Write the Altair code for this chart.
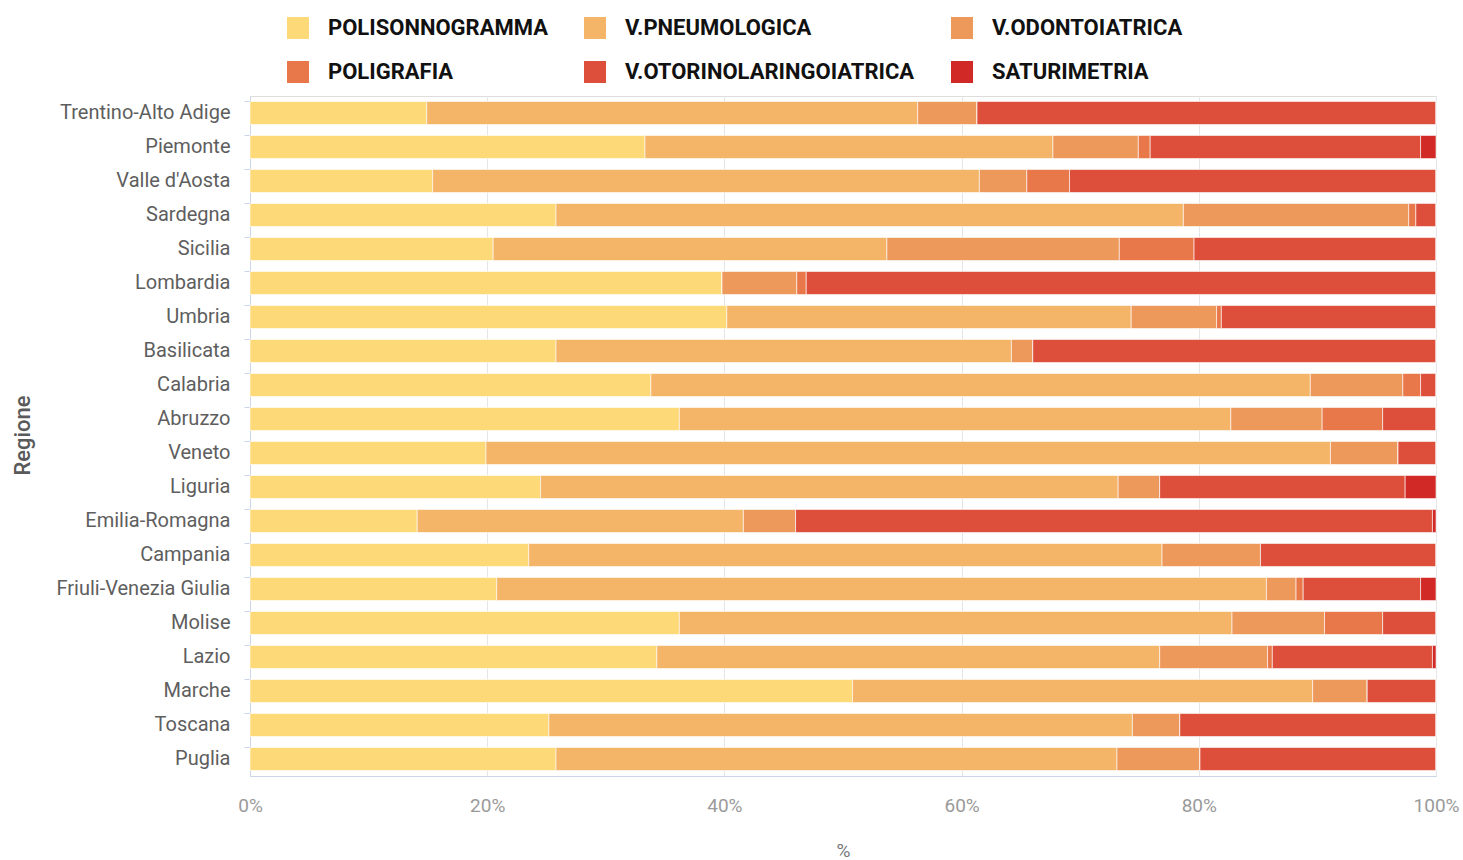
import altair as alt
import pandas as pd

# Regions, top to bottom
regioni = [
    "Trentino-Alto Adige", "Piemonte", "Valle d'Aosta", "Sardegna", "Sicilia",
    "Lombardia", "Umbria", "Basilicata", "Calabria", "Abruzzo", "Veneto",
    "Liguria", "Emilia-Romagna", "Campania", "Friuli-Venezia Giulia", "Molise",
    "Lazio", "Marche", "Toscana", "Puglia",
]

# Share (%) of each exam type per region, same order as `regioni`
polisonnogramma = [14.9, 33.3, 15.4, 25.8, 20.5, 39.8, 40.2, 25.8, 33.8, 36.2,
                   19.9, 24.5, 14.1, 23.5, 20.8, 36.2, 34.3, 50.8, 25.2, 25.8]
v_pneumologica = [41.4, 34.4, 46.1, 52.9, 33.2, 0.0, 34.1, 38.4, 55.6, 46.5,
                  71.2, 48.7, 27.5, 53.4, 64.9, 46.6, 42.4, 38.8, 49.2, 47.3]
v_odontoiatrica = [5.0, 7.2, 4.0, 19.0, 19.6, 6.3, 7.2, 1.8, 7.8, 7.7,
                   5.7, 3.5, 4.4, 8.3, 2.5, 7.8, 9.1, 4.6, 4.0, 7.0]
poligrafia = [0.0, 1.0, 3.6, 0.6, 6.3, 0.8, 0.4, 0.0, 1.5, 5.1,
              0.0, 0.0, 0.0, 0.0, 0.6, 4.9, 0.4, 0.0, 0.0, 0.0]
v_otorinolaringoiatrica = [38.7, 22.8, 30.9, 1.7, 20.4, 53.1, 18.1, 34.0, 1.3, 4.5,
                           3.2, 20.7, 53.7, 14.8, 9.9, 4.5, 13.5, 5.8, 21.6, 19.9]
saturimetria = [0.0, 1.3, 0.0, 0.0, 0.0, 0.0, 0.0, 0.0, 0.0, 0.0,
                0.0, 2.6, 0.3, 0.0, 1.3, 0.0, 0.3, 0.0, 0.0, 0.0]

esami = ["POLISONNOGRAMMA", "V.PNEUMOLOGICA", "V.ODONTOIATRICA",
         "POLIGRAFIA", "V.OTORINOLARINGOIATRICA", "SATURIMETRIA"]
serie = [polisonnogramma, v_pneumologica, v_odontoiatrica,
         poligrafia, v_otorinolaringoiatrica, saturimetria]
colori = ["#fdd977", "#f5b568", "#ee995c", "#e8774a", "#dd4f3b", "#d12a26"]

rows = []
for k, (esame, valori) in enumerate(zip(esami, serie)):
    for regione, v in zip(regioni, valori):
        rows.append({"Regione": regione, "Esame": esame, "ordine": k, "valore": v})
df = pd.DataFrame(rows)

bars = alt.Chart(df).mark_bar(stroke="#ffffff", strokeWidth=0.6).encode(
    y=alt.Y(
        "Regione:N",
        sort=regioni,
        scale=alt.Scale(paddingInner=0.32, paddingOuter=0.16),
        axis=alt.Axis(
            title="Regione",
            titleFont="Roboto",
            titleFontSize=22,
            titleFontWeight=500,
            titleColor="#5a5a5a",
            titleAngle=270,
            titleX=-228,
            titleY=339,
            titleAlign="center",
            titleBaseline="middle",
            labelFont="Roboto",
            labelFontSize=20,
            labelColor="#5e5e5e",
            labelPadding=14,
            labelLimit=300,
            domainColor="#ccd6eb",
            tickColor="#ccd6eb",
            tickSize=6,
            bandPosition=0,
            grid=False,
        ),
    ),
    x=alt.X(
        "valore:Q",
        stack="normalize",
        scale=alt.Scale(domain=[0, 1]),
        axis=alt.Axis(
            title="%",
            titleFont="Roboto",
            titleFontSize=19,
            titleFontWeight="normal",
            titleColor="#777777",
            titleY=74,
            titleBaseline="middle",
            values=[0, 0.2, 0.4, 0.6, 0.8, 1.0],
            format=".0%",
            labelFont="Roboto",
            labelFontSize=19,
            labelColor="#9a9a9a",
            labelPadding=20,
            labelFlush=False,
            ticks=False,
            domainColor="#ccd6eb",
            gridColor="#e6e6e6",
        ),
    ),
    color=alt.Color(
        "Esame:N",
        scale=alt.Scale(domain=esami, range=colori),
        title=None,
        legend=alt.Legend(
            orient="none",
            legendX=37,
            legendY=-79,
            direction="horizontal",
            columns=3,
            gridAlign="each",
            symbolType="square",
            symbolSize=484,
            symbolStrokeWidth=0,
            symbolOpacity=1,
            labelFont="Roboto",
            labelFontWeight="bold",
            labelFontSize=22,
            labelColor="#111111",
            labelOffset=19,
            labelLimit=400,
            columnPadding=36,
            rowPadding=22,
            padding=0,
        ),
    ),
    order=alt.Order("ordine:Q"),
)

chart = bars.properties(
    width=1186,
    height=680,
    padding={"left": 250, "top": 96, "right": 27, "bottom": 84},
    autosize=alt.AutoSizeParams(type="none"),
).configure_view(stroke=None).configure(background="#ffffff")

chart.save("out.html", embed_options={"renderer": "svg", "actions": False})
